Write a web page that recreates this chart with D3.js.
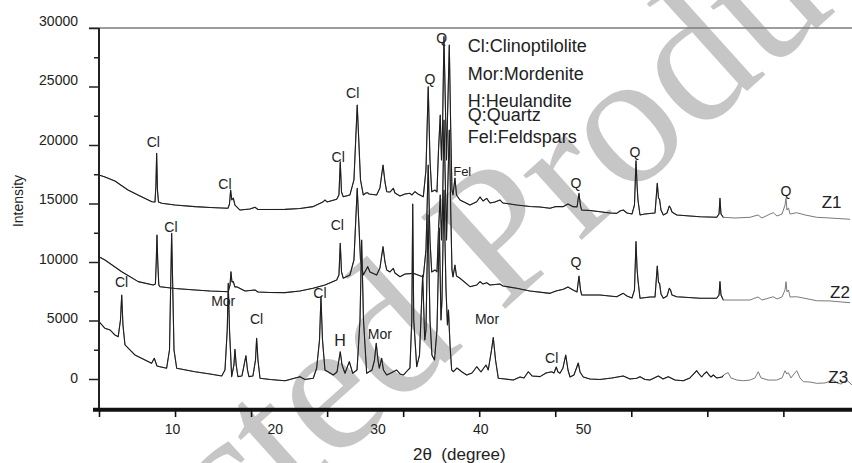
<!DOCTYPE html>
<html><head><meta charset="utf-8">
<script src="https://cdn.jsdelivr.net/npm/d3@7"></script>
<style>
body{margin:0;background:#fff}
svg{display:block}
text{font-family:"Liberation Sans",Arial,sans-serif;fill:#222}
</style>
</head><body>
<svg id="chart" width="852" height="463"></svg>
<script>
// ---------- data (2θ in degrees, intensity in counts) ----------
const z1 = [[2.90,17440],[3.48,17270],[4.45,16920],[5.72,16150],[6.89,15640],[8.05,15150],[8.35,15130],[8.44,16580],[8.51,19290],[8.59,16150],[8.69,15130],[9.00,15020],[10.29,14870],[12.24,14730],[13.70,14660],[15.45,14590],[15.60,14960],[15.71,16150],[15.82,15300],[15.97,15470],[16.13,14870],[16.62,14440],[17.59,14530],[18.08,14680],[18.37,14490],[19.54,14490],[21.00,14500],[22.46,14570],[23.72,14730],[24.73,15150],[24.89,15300],[25.09,15130],[26.03,15360],[26.25,15730],[26.38,18570],[26.50,15980],[26.67,15580],[27.32,15730],[27.71,17010],[28.03,23420],[28.35,17010],[28.62,15730],[28.88,15900],[29.05,15920],[29.17,15810],[29.92,15730],[30.24,16330],[30.54,18290],[30.73,16840],[30.90,16010],[31.22,15980],[31.54,16300],[31.70,15900],[32.19,15640],[32.68,15810],[33.16,15870],[33.36,15730],[33.65,16010],[33.94,15810],[34.46,15580],[34.72,17860],[34.94,24980],[35.11,18720],[35.28,16010],[35.60,16150],[35.79,15980],[35.94,19570],[36.11,22560],[36.23,18720],[36.33,21280],[36.47,29260],[36.62,22990],[36.72,18720],[36.81,22140],[36.99,28550],[37.13,21280],[37.25,16150],[37.35,15730],[37.54,17180],[37.69,15730],[38.03,15300],[39.00,14870],[39.66,15150],[39.98,15560],[40.27,15210],[40.63,15440],[40.95,15040],[41.44,15130],[41.92,15300],[42.21,15040],[42.90,14960],[43.55,14870],[44.84,14740],[45.82,14700],[46.79,14590],[47.37,14740],[48.05,14730],[48.54,14960],[49.03,14730],[49.42,14700],[49.61,15870],[49.76,14790],[49.87,14440],[50.68,14400],[51.65,14300],[52.63,14190],[53.28,14160],[53.60,14360],[53.92,14440],[54.28,14190],[54.77,14100],[55.01,14870],[55.16,18660],[55.26,16580],[55.35,15300],[55.55,14020],[56.03,14100],[56.52,14150],[57.01,14190],[57.23,16730],[57.35,15470],[57.45,15360],[57.59,14440],[57.82,14020],[58.18,14190],[58.40,14790],[58.52,14620],[58.66,14270],[59.12,14020],[60.41,13930],[61.39,13870],[63.01,13820],[63.24,14100],[63.33,15440],[63.43,14100],[63.66,13820],[64.79,13760],[66.25,13820],[67.03,14020],[67.42,13760],[68.20,14100],[68.52,14210],[68.88,13930],[69.37,14100],[69.66,14870],[69.76,15440],[69.85,14440],[70.00,14620],[70.15,14100],[70.80,14210],[71.61,14020],[72.75,13820],[74.04,13760],[75.99,13650]];

const z2 = [[2.90,10450],[3.48,10170],[5.11,9170],[6.72,8320],[8.18,8030],[8.39,8120],[8.47,10000],[8.54,12310],[8.62,10000],[8.72,8030],[8.83,7890],[10.29,7740],[12.24,7610],[13.70,7520],[15.48,7460],[15.65,8030],[15.74,9170],[15.84,8290],[15.97,8320],[16.13,7860],[16.30,7890],[17.11,7520],[18.08,7610],[18.37,7440],[19.54,7390],[21.00,7380],[22.46,7520],[23.72,7750],[24.89,8030],[26.03,8460],[26.25,8890],[26.38,11600],[26.50,9150],[26.67,8610],[27.32,8890],[27.71,10170],[28.03,16300],[28.35,10170],[28.62,8890],[29.05,9600],[29.27,9150],[29.92,8890],[30.24,9490],[30.54,11310],[30.73,10000],[30.90,9320],[31.22,9150],[31.54,9460],[31.70,9060],[32.19,8740],[32.68,8970],[33.48,9030],[33.94,8890],[34.46,8720],[34.72,11030],[34.94,18290],[35.11,11880],[35.28,9150],[35.60,9320],[35.79,9150],[35.94,12740],[36.11,15730],[36.23,11880],[36.33,14440],[36.47,22140],[36.62,16150],[36.72,11880],[36.81,15300],[36.99,21280],[37.13,14440],[37.25,9320],[37.35,8720],[37.54,9740],[37.69,8800],[38.03,8610],[39.00,7890],[39.66,8030],[39.98,8320],[40.27,8120],[40.63,8230],[40.95,8030],[41.92,8120],[42.21,7950],[43.55,7750],[44.84,7520],[46.79,7320],[47.37,7520],[48.08,7670],[48.54,7860],[49.03,7610],[49.42,7440],[49.61,8800],[49.76,7610],[49.87,7180],[51.65,7180],[53.28,7030],[53.92,7320],[54.28,7090],[54.77,6920],[55.01,7610],[55.16,11740],[55.26,9460],[55.35,8460],[55.55,6900],[56.52,7010],[57.01,7010],[57.23,9660],[57.35,8230],[57.45,8200],[57.59,7270],[57.82,6900],[58.18,7090],[58.40,7750],[58.52,7610],[58.66,7180],[59.12,7030],[61.39,6900],[63.01,6900],[63.24,7180],[63.33,8320],[63.43,7180],[63.66,6750],[66.25,6750],[67.03,7010],[67.42,6750],[68.52,7030],[68.88,6840],[69.37,7010],[69.66,7610],[69.76,8320],[69.85,7440],[70.00,7610],[70.15,7010],[70.80,7030],[72.75,6690],[74.04,6670],[75.99,6520]];

const z3 = [[2.90,4900],[3.48,4330],[3.97,4190],[4.45,3760],[4.77,3620],[4.99,5040],[5.11,7180],[5.23,4620],[5.43,2910],[6.40,2050],[8.02,1340],[8.28,1770],[8.54,1110],[8.83,1050],[9.48,920],[9.76,2480],[9.97,12450],[10.20,2480],[10.46,920],[12.24,620],[13.70,430],[14.84,260],[15.16,770],[15.38,4190],[15.48,8180],[15.60,4190],[15.81,200],[16.03,1200],[16.13,2540],[16.25,1200],[16.42,200],[16.81,260],[17.20,1990],[17.35,770],[17.49,200],[17.88,260],[18.13,1620],[18.24,3480],[18.37,1620],[18.57,60],[19.54,-40],[21.00,-150],[21.48,-40],[22.46,200],[22.94,-40],[23.75,60],[24.08,920],[24.36,3330],[24.50,7030],[24.65,3330],[24.89,770],[25.70,340],[26.06,600],[26.38,2330],[26.55,1200],[26.84,490],[27.26,1480],[27.59,490],[28.01,770],[28.30,5040],[28.46,11880],[28.64,5040],[28.95,490],[29.47,770],[29.71,1620],[29.88,3050],[30.05,1620],[30.18,920],[30.41,1770],[30.58,770],[30.90,340],[31.31,510],[31.87,770],[32.19,430],[32.51,340],[32.87,680],[33.16,940],[33.34,5040],[33.43,14960],[33.53,5040],[33.82,1050],[34.09,2050],[34.40,8890],[34.60,3330],[34.72,4190],[34.92,14020],[35.11,5040],[35.30,2050],[35.55,1620],[35.79,4190],[36.02,12910],[36.18,5040],[36.28,6750],[36.47,16150],[36.67,7610],[36.81,4620],[36.91,5900],[37.06,2910],[37.22,770],[37.38,620],[37.74,940],[38.20,620],[38.68,340],[39.20,510],[39.66,1050],[40.07,600],[40.56,1200],[40.78,770],[41.10,2480],[41.27,3550],[41.49,1620],[41.76,60],[42.41,0],[43.22,-90],[43.87,170],[44.26,90],[44.68,620],[45.04,260],[45.82,200],[46.40,510],[46.95,620],[47.18,510],[47.40,1030],[47.57,600],[47.76,490],[48.05,940],[48.32,2050],[48.54,770],[48.74,170],[49.12,340],[49.37,940],[49.54,1370],[49.71,600],[50.03,170],[50.68,0],[51.65,-40],[52.82,90],[53.92,260],[54.57,0],[55.23,60],[55.55,200],[56.03,-40],[56.52,-90],[57.33,260],[57.79,0],[58.30,200],[58.95,-90],[59.76,-150],[60.41,90],[61.07,710],[61.29,430],[61.55,170],[61.78,430],[62.04,620],[62.26,340],[62.46,170],[62.68,340],[63.01,90],[63.53,170],[63.82,430],[64.14,540],[64.40,90],[64.99,-90],[65.60,-150],[66.25,-90],[66.74,90],[67.06,620],[67.32,90],[68.01,-90],[68.85,-90],[69.37,90],[69.66,710],[69.83,430],[69.98,540],[70.24,90],[70.54,430],[70.80,710],[71.12,90],[71.44,-230],[72.09,-260],[72.75,-370],[73.55,-340],[74.36,-90],[74.72,-340],[75.11,-430],[75.66,-90],[76.18,-510]];

const seriesNames = ["Z1", "Z2", "Z3"];
const seriesLabelAt = [[73.23, 14590], [74.04, 6897], [73.87, -368]];

// peak annotations: [2θ, intensity at label baseline, text]
const peakLabels = [
  [8.18, 19855, "Cl"], [15.16, 16214, "Cl"], [27.59, 23991, "Cl"], [26.18, 18573, "Cl"],
  [35.11, 25214, "Q"], [36.25, 28744, "Q"], [38.25, 17333, "Fel"], [49.32, 16299, "Q"],
  [55.06, 19000, "Q"], [69.76, 15667, "Q"],
  [9.90, 12590, "Cl"], [26.09, 12735, "Cl"], [49.32, 9598, "Q"],
  [5.10, 7889, "Cl"], [14.99, 6265, "Mor"], [18.24, 4701, "Cl"], [24.40, 6897, "Cl"],
  [26.35, 2846, "H"], [30.24, 3419, "Mor"], [40.66, 4658, "Mor"], [46.95, 1385, "Cl"]
];

const legendItems = ["Cl:Clinoptilolite", "Mor:Mordenite", "H:Heulandite", "Q:Quartz", "Fel:Feldspars"];
const xTickLabels = [10, 20, 30, 40, 50];
const yTickLabels = [0, 5000, 10000, 15000, 20000, 25000, 30000];
const yMinorTicks = [-2500, 2500, 7500, 12500, 17500, 22500, 27500];
const xTitle = "2\u03B8  (degree)";
const yTitle = "Intensity";
const watermark = "Retracted Product";

// ---------- drawing ----------
const svg = d3.select("#chart");
const x = d3.scaleLinear().domain([2.9, 76.18]).range([99, 852]);
const y = d3.scaleLinear().domain([-2650, 30000]).range([410, 28]);
const yLab = d3.scaleLinear().domain([0, 30000]).range([378, 20.7]);

// watermark (behind everything)
svg.append("text")
  .attr("transform", "translate(-76,832) rotate(-42)")
  .attr("font-size", 190)
  .style("fill", "#c6c6c6")
  .style("font-family", "'Liberation Serif','DejaVu Serif',serif")
  .text(watermark);

// clip path for the two tone line rendering
const defs = svg.append("defs");
defs.append("clipPath").attr("id", "dark").append("rect")
  .attr("x", 0).attr("y", 0).attr("width", 723.5).attr("height", 463);

const line = d3.line().x(d => x(d[0])).y(d => y(d[1]));
const data = [z1, z2, z3];
data.forEach(s => {
  svg.append("path").attr("d", line(s)).attr("fill", "none")
    .attr("stroke", "#7a7a7a").attr("stroke-width", 1).attr("stroke-linejoin", "round");
  svg.append("path").attr("d", line(s)).attr("fill", "none").attr("clip-path", "url(#dark)")
    .attr("stroke", "#1e1e1e").attr("stroke-width", 1.1).attr("stroke-linejoin", "round");
});

// top frame line
svg.append("line").attr("x1", 89).attr("x2", 852).attr("y1", y(30000)).attr("y2", y(30000))
  .attr("stroke", "#7d7d7d").attr("stroke-width", 1.6);

// y axis
const yAxisG = svg.append("g").attr("transform", "translate(99,0)");
yAxisG.call(d3.axisLeft(y).tickValues(yTickLabels).tickSize(10).tickFormat(""));
yAxisG.call(g => g.append("g").call(d3.axisLeft(y).tickValues(yMinorTicks).tickSize(5).tickFormat("")));
yAxisG.selectAll(".domain").remove();
yAxisG.selectAll("line").attr("stroke", "#222").attr("stroke-width", 1.5);
svg.append("line").attr("x1", 99).attr("x2", 99).attr("y1", y(30000)).attr("y2", 410)
  .attr("stroke", "#222").attr("stroke-width", 2);

const yLabG = svg.append("g").attr("transform", "translate(78,0)")
  .call(d3.axisLeft(yLab).tickValues(yTickLabels).tickSize(0).tickPadding(0).tickFormat(d3.format("d")));
yLabG.select(".domain").remove();
yLabG.selectAll("text").attr("font-size", 14).attr("font-family", null).style("fill", "#222");

// x axis
const xAxisG = svg.append("g").attr("transform", "translate(0,410)");
xAxisG.call(d3.axisBottom(x).tickValues(d3.range(2.9, 76, 7.4)).tickSize(7).tickFormat(""));
xAxisG.select(".domain").remove();
xAxisG.selectAll("line").attr("stroke", "#111").attr("stroke-width", 1.6);
svg.append("line").attr("x1", 93).attr("x2", 852).attr("y1", 409.7).attr("y2", 409.7)
  .attr("stroke", "#111").attr("stroke-width", 4);
const xLabG = svg.append("g").attr("transform", "translate(0,410)")
  .call(d3.axisBottom(x).tickValues(xTickLabels).tickSize(0).tickPadding(14));
xLabG.select(".domain").remove();
xLabG.selectAll("text").attr("font-size", 14).attr("font-family", null).style("fill", "#222");

// axis titles
svg.append("text").attr("x", 413).attr("y", 460).attr("font-size", 17)
  .attr("xml:space", "preserve").style("white-space", "pre").text(xTitle);
svg.append("text").attr("transform", "translate(22.5,201) rotate(-90)")
  .attr("text-anchor", "middle").attr("font-size", 14).text(yTitle);

// peak labels
svg.selectAll(".peak").data(peakLabels).enter().append("text").attr("class", "peak")
  .attr("x", d => x(d[0])).attr("y", d => y(d[1]))
  .attr("text-anchor", "middle")
  .attr("font-size", d => d[2] === "H" ? 16 : (d[2] === "Fel" ? 13 : 14))
  .text(d => d[2]);

// series names
svg.selectAll(".sname").data(seriesNames).enter().append("text").attr("class", "sname")
  .attr("x", (d, i) => x(seriesLabelAt[i][0])).attr("y", (d, i) => y(seriesLabelAt[i][1]))
  .attr("font-size", 17).text(d => d);

// legend (phase key)
const legendBaselines = [51.7, 80, 107, 120.7, 143];
svg.selectAll(".leg").data(legendItems).enter().append("text").attr("class", "leg")
  .attr("x", 467.7).attr("y", (d, i) => legendBaselines[i])
  .attr("font-size", 18).text(d => d);
</script>
</body></html>
